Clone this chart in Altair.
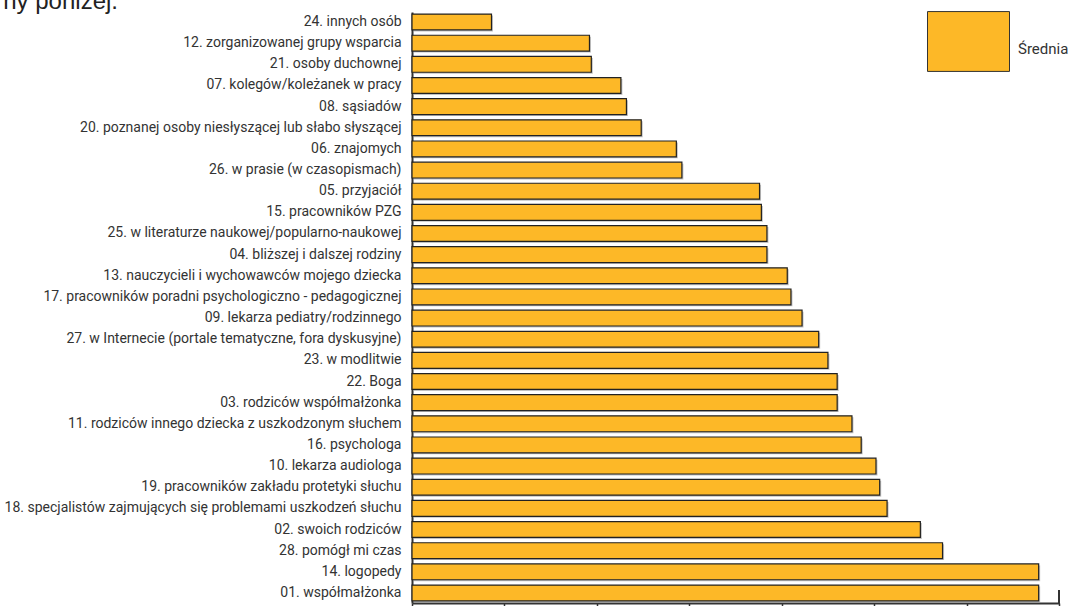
import altair as alt
import pandas as pd

labels = [
    "24. innych osób",
    "12. zorganizowanej grupy wsparcia",
    "21. osoby duchownej",
    "07. kolegów/koleżanek w pracy",
    "08. sąsiadów",
    "20. poznanej osoby niesłyszącej lub słabo słyszącej",
    "06. znajomych",
    "26. w prasie (w czasopismach)",
    "05. przyjaciół",
    "15. pracowników PZG",
    "25. w literaturze naukowej/popularno-naukowej",
    "04. bliższej i dalszej rodziny",
    "13. nauczycieli i wychowawców mojego dziecka",
    "17. pracowników poradni psychologiczno - pedagogicznej",
    "09. lekarza pediatry/rodzinnego",
    "27. w Internecie (portale tematyczne, fora dyskusyjne)",
    "23. w modlitwie",
    "22. Boga",
    "03. rodziców współmałżonka",
    "11. rodziców innego dziecka z uszkodzonym słuchem",
    "16. psychologa",
    "10. lekarza audiologa",
    "19. pracowników zakładu protetyki słuchu",
    "18. specjalistów zajmujących się problemami uszkodzeń słuchu",
    "02. swoich rodziców",
    "28. pomógł mi czas",
    "14. logopedy",
    "01. współmałżonka",
]
values = [
    0.43, 0.96, 0.97, 1.13, 1.16, 1.24, 1.43, 1.46,
    1.88, 1.89, 1.92, 1.92, 2.03, 2.05, 2.11, 2.20,
    2.25, 2.30, 2.30, 2.38, 2.43, 2.51, 2.53, 2.57,
    2.75, 2.87, 3.39, 3.39,
]
series_name = "Średnia"
x_ticks = [0, 0.5, 1.0, 1.5, 2.0, 2.5, 3.0, 3.5]
header_text = ["ny poniżej."]

df = pd.DataFrame({"label": labels, "value": values, "series": [series_name] * len(labels)})

FONT = "Roboto"
BAR = "#FDB827"

xscale = alt.Scale(domain=[0, 3.5], nice=False, zero=True)
yscale = alt.Scale(paddingInner=0.25, paddingOuter=0.1)

x_enc = alt.X(
    "value:Q",
    scale=xscale,
    axis=alt.Axis(
        values=x_ticks, labels=False, title=None, grid=False,
        domainColor="#333333", domainWidth=2, tickColor="#333333",
        tickSize=3, tickWidth=1.5,
    ),
)
y_enc = alt.Y(
    "label:N",
    sort=labels,
    scale=yscale,
    axis=alt.Axis(
        title=None, ticks=False, domainColor="#333333", domainWidth=2,
        labelFont=FONT, labelFontSize=14, labelFontWeight=400, labelColor="#333333",
        labelPadding=11, labelLimit=500,
    ),
)

base = alt.Chart(df)

shadow = base.mark_bar(color="#9a9a9a", opacity=0.6, xOffset=1.5, yOffset=1.5).encode(
    x=x_enc, y=y_enc,
)

bars = base.mark_bar(stroke="#222222", strokeWidth=1.2).encode(
    x=x_enc,
    y=y_enc,
    color=alt.Color(
        "series:N",
        scale=alt.Scale(range=[BAR]),
        legend=alt.Legend(
            title=None, orient="none", legendX=515, legendY=-12,
            symbolType="M-1,-0.73H1V0.73H-1Z", symbolSize=6724,
            symbolStrokeColor="#333333", symbolStrokeWidth=1, symbolOpacity=1,
            labelFont=FONT, labelFontSize=15, labelFontWeight=400, labelColor="#333333",
            labelOffset=8, labelBaseline="top", padding=0,
        ),
    ),
)

end_mark = alt.Chart(pd.DataFrame({"x": [x_ticks[-1]]})).mark_rule(
    color="#333333", strokeWidth=2
).encode(x=alt.X("x:Q", scale=xscale), y=alt.value(578), y2=alt.value(592))

header = alt.Chart(pd.DataFrame({"t": header_text})).mark_text(
    font="Liberation Sans, Arial, sans-serif", fontSize=24, color="#222222",
    align="right", baseline="alphabetic",
).encode(text="t:N", x=alt.value(-294), y=alt.value(-3.5))

chart = alt.layer(shadow, bars, end_mark, header).properties(
    width=647, height=591,
    autosize=alt.AutoSizeParams(type="none"),
    padding={"left": 412, "top": 12, "right": 15, "bottom": 3},
).configure(background="white").configure_view(stroke=None)

chart.save("out.html", embed_options={"renderer": "svg", "actions": False})
